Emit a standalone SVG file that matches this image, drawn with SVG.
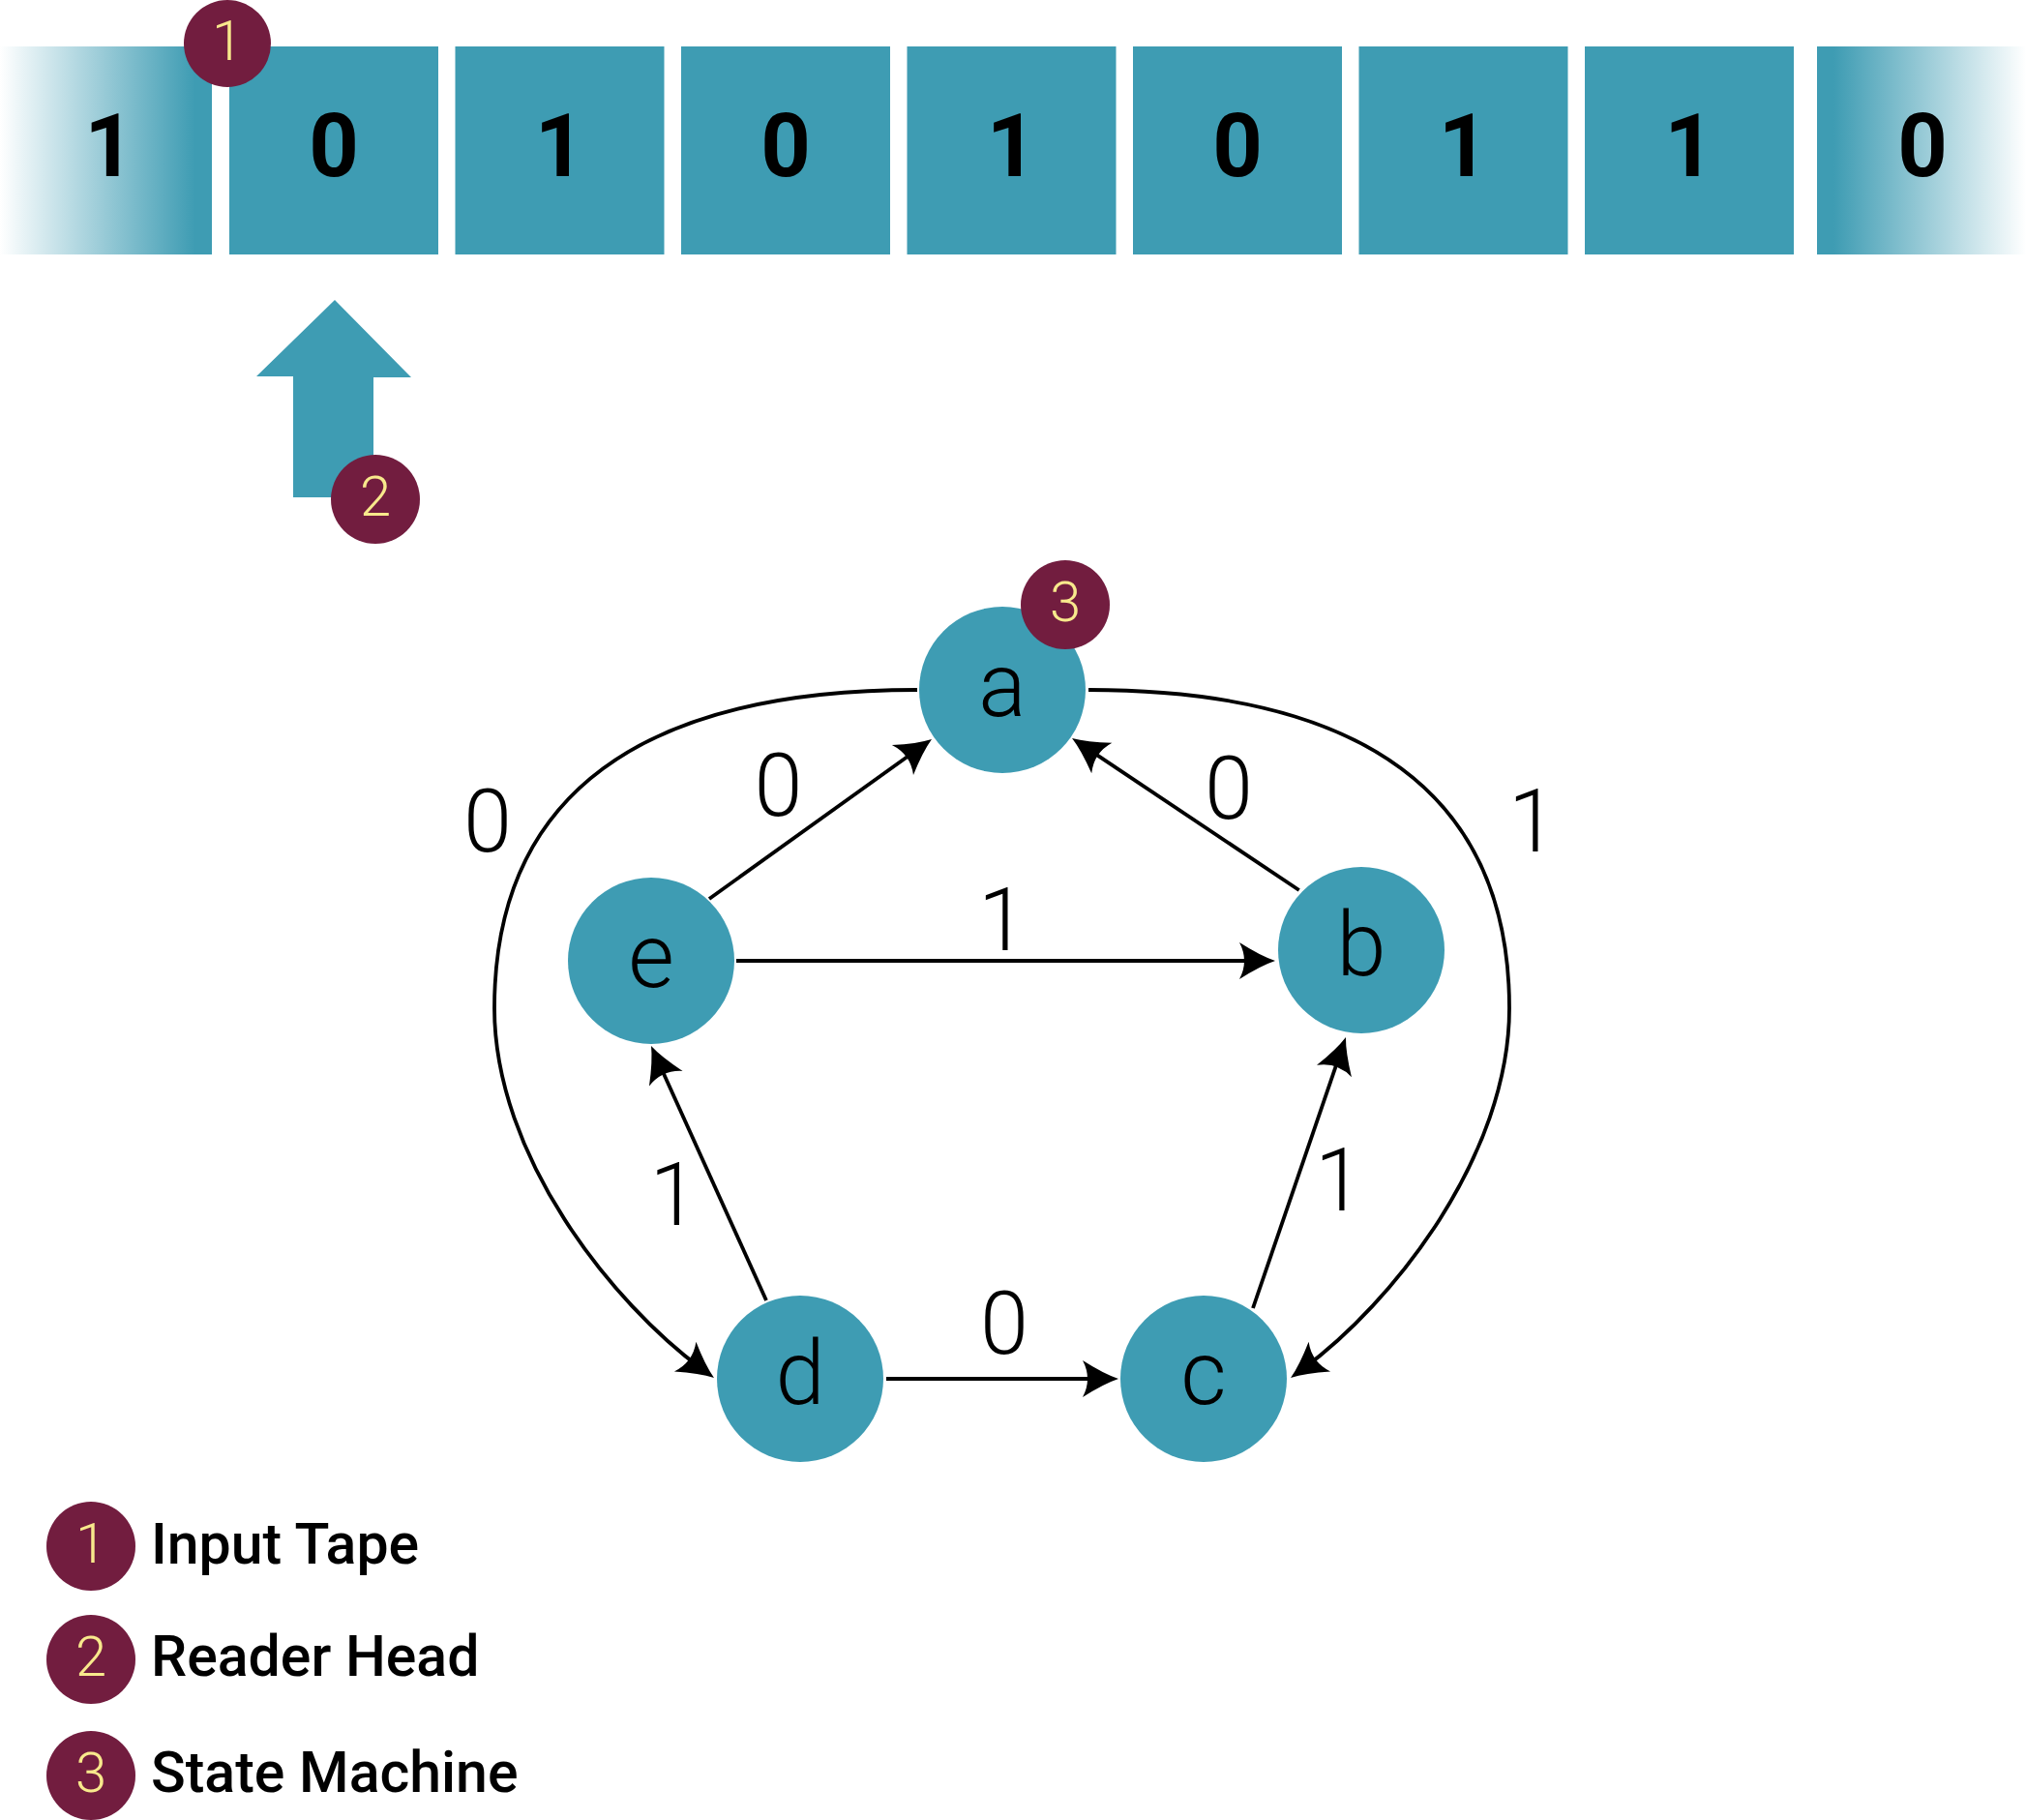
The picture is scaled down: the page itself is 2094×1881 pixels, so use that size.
<svg xmlns="http://www.w3.org/2000/svg" width="2094" height="1881" viewBox="0 0 2094 1881">
<defs>
<style>
.cell{fill:#3e9cb3}
.tdig{font-family:Roboto,"Liberation Sans",sans-serif;font-weight:700;font-size:90px;fill:#000;text-anchor:middle}
.node{fill:#3e9cb3}
.nlab{font-family:Roboto,"Liberation Sans",sans-serif;font-weight:300;font-size:92px;fill:#000;text-anchor:middle}
.elab{font-family:Roboto,"Liberation Sans",sans-serif;font-weight:300;font-size:90px;fill:#000;text-anchor:middle}
.badge{fill:#721d3f}
.bnum{font-family:Roboto,"Liberation Sans",sans-serif;font-weight:300;font-size:58px;fill:#f8e98c;text-anchor:middle}
.leg{font-family:Roboto,"Liberation Sans",sans-serif;font-weight:500;font-size:59px;fill:#000}
.edge{fill:none;stroke:#000;stroke-width:3.8;marker-end:url(#ah)}
</style>
<linearGradient id="gl" x1="0" y1="0" x2="219" y2="0" gradientUnits="userSpaceOnUse">
<stop offset="0" stop-color="#3e9cb3" stop-opacity="0"/>
<stop offset="0.92" stop-color="#3e9cb3" stop-opacity="1"/>
</linearGradient>
<linearGradient id="gr" x1="2094" y1="0" x2="1878" y2="0" gradientUnits="userSpaceOnUse">
<stop offset="0" stop-color="#3e9cb3" stop-opacity="0"/>
<stop offset="0.92" stop-color="#3e9cb3" stop-opacity="1"/>
</linearGradient>
<marker id="ah" markerUnits="userSpaceOnUse" viewBox="-25 -22 45 44" markerWidth="45" markerHeight="44" refX="0" refY="0" orient="auto" overflow="visible">
<path d="M15,0 Q0,-5 -22,-19 Q-12,0 -22,19 Q0,5 15,0 Z" fill="#000"/>
</marker>
</defs>
<rect width="2094" height="1881" fill="#fff"/>

<g id="tape">
<g id="cell-left"><rect x="0" y="48" width="219" height="215" fill="url(#gl)"/><text class="tdig" x="113" y="182">1</text></g>
<g id="cell-0"><rect class="cell" x="237" y="48" width="216" height="215"/><text class="tdig" x="345" y="182">0</text></g>
<g id="cell-1"><rect class="cell" x="470.5" y="48" width="216" height="215"/><text class="tdig" x="578.5" y="182">1</text></g>
<g id="cell-2"><rect class="cell" x="704" y="48" width="216" height="215"/><text class="tdig" x="812" y="182">0</text></g>
<g id="cell-3"><rect class="cell" x="937.5" y="48" width="216" height="215"/><text class="tdig" x="1045.5" y="182">1</text></g>
<g id="cell-4"><rect class="cell" x="1171" y="48" width="216" height="215"/><text class="tdig" x="1279" y="182">0</text></g>
<g id="cell-5"><rect class="cell" x="1404.5" y="48" width="216" height="215"/><text class="tdig" x="1512.5" y="182">1</text></g>
<g id="cell-6"><rect class="cell" x="1638" y="48" width="216" height="215"/><text class="tdig" x="1746" y="182">1</text></g>
<g id="cell-right"><rect x="1878" y="48" width="216" height="215" fill="url(#gr)"/><text class="tdig" x="1987" y="182">0</text></g>
</g>

<g id="badge-1"><circle class="badge" cx="235" cy="45" r="45"/><text class="bnum" x="235" y="62">1</text></g>

<g id="reader-head"><polygon class="cell" points="346,310 425,390 386,390 386,514 303,514 303,389 265,389"/></g>
<g id="badge-2"><circle class="badge" cx="388" cy="516" r="46"/><text class="bnum" x="388" y="533">2</text></g>

<g id="connectors">
<path class="edge" d="M948,713 C665,713 511,820 511,1042 C511,1195 633,1347 725.9,1415.2"/>
<path class="edge" d="M1125,713 C1407,713 1560,820 1560,1042 C1560,1195 1439,1347 1346.1,1415.2"/>
<path class="edge" d="M733,929 L950.8,772.7"/>
<path class="edge" d="M1342.7,920 L1120.5,771.3"/>
<path class="edge" d="M761,993 L1303,993"/>
<path class="edge" d="M792,1344 L679.2,1094.7"/>
<path class="edge" d="M1295,1352 L1386.1,1086.2"/>
<path class="edge" d="M916,1425 L1141,1425"/>
<text class="elab" x="504" y="880">0</text>
<text class="elab" x="804.5" y="843">0</text>
<text class="elab" x="1270" y="846">0</text>
<text class="elab" x="1584" y="880">1</text>
<text class="elab" x="1036" y="982">1</text>
<text class="elab" x="696.5" y="1266">1</text>
<text class="elab" x="1384" y="1251">1</text>
<text class="elab" x="1038" y="1399">0</text>
</g>

<g id="node-a"><circle class="node" cx="1036" cy="713" r="86"/><text class="nlab" x="1036" y="740">a</text></g>
<g id="badge-3"><circle class="badge" cx="1101" cy="625" r="46"/><text class="bnum" x="1101" y="642">3</text></g>
<g id="node-b"><circle class="node" cx="1407" cy="982" r="86"/><text class="nlab" x="1407" y="1008">b</text></g>
<g id="node-c"><circle class="node" cx="1244" cy="1425" r="86"/><text class="nlab" x="1244" y="1451">c</text></g>
<g id="node-d"><circle class="node" cx="827" cy="1425" r="86"/><text class="nlab" x="827" y="1451">d</text></g>
<g id="node-e"><circle class="node" cx="673" cy="993" r="86"/><text class="nlab" x="673" y="1020">e</text></g>

<g id="legend">
<g id="legend-1"><circle class="badge" cx="94" cy="1598" r="46"/><text class="bnum" x="94" y="1615">1</text><text class="leg" x="156" y="1616">Input Tape</text></g>
<g id="legend-2"><circle class="badge" cx="94" cy="1715" r="46"/><text class="bnum" x="94" y="1732">2</text><text class="leg" x="156" y="1732">Reader Head</text></g>
<g id="legend-3"><circle class="badge" cx="94" cy="1835" r="46"/><text class="bnum" x="94" y="1852">3</text><text class="leg" x="156" y="1852">State Machine</text></g>
</g>
</svg>
